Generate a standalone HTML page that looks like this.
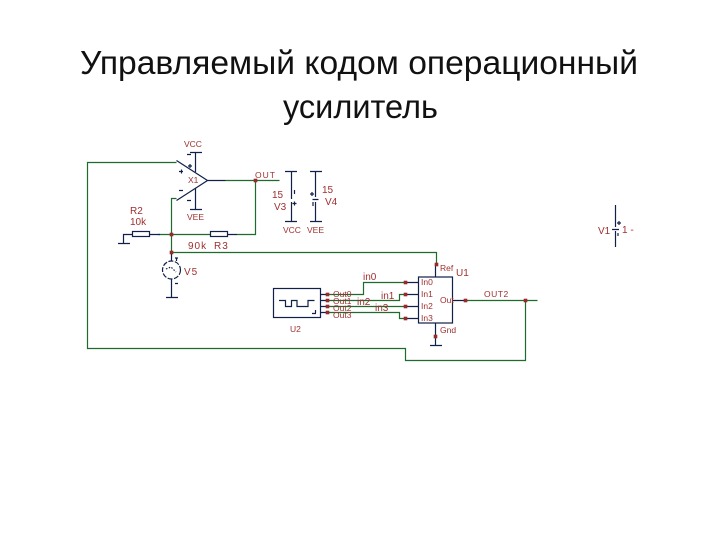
<!DOCTYPE html>
<html><head><meta charset="utf-8"><style>
html,body{margin:0;padding:0;background:#fff;width:720px;height:540px;overflow:hidden}
svg{display:block}
.t{font-family:"Liberation Sans",sans-serif;font-size:33px;fill:#111}
.l{font-family:"Liberation Sans",sans-serif;font-size:10px;fill:#a03030}
.s{font-family:"Liberation Sans",sans-serif;font-size:8.500px;fill:#a03030}
.g{stroke:#1f6b2e;stroke-width:1.200;fill:none}
.d{stroke:#10204a;stroke-width:1.200;fill:none}
.j{fill:#9a2a2a}
</style></head><body>
<svg width="720" height="540" viewBox="0 0 720 540" xmlns="http://www.w3.org/2000/svg">
<text class="t" x="80" y="74" textLength="558" lengthAdjust="spacingAndGlyphs">Управляемый кодом операционный</text>
<text class="t" x="283" y="118" textLength="155" lengthAdjust="spacingAndGlyphs">усилитель</text>

<!-- green wires -->
<path class="g" d="M176.500 162.500H87.500V348.500H405.500V360.500H525.500V300.500"/>
<path class="g" d="M176.500 198.500H171.500V252.500H436.500V264.500"/>
<path class="g" d="M225.500 180.500H279.500M255.500 180.500V234.500H237M158 234.500H210"/>
<path class="g" d="M465.500 300.500H537.500"/>
<path class="g" d="M327.500 294.500H363.500V282.500H405.500"/>
<path class="g" d="M327.500 300.500H399.500V294.500H405.500"/>
<path class="g" d="M327.500 306.500H405.500"/>
<path class="g" d="M327.500 312.500H399.500V318.500H405.500"/>

<!-- op amp -->
<path class="d" d="M176.500 160.500L207.500 180.500L176.500 200.500M207.500 180.500H225.500"/>
<path class="d" d="M190 152.500H202M195.500 152.500V172M190 209.500H202M195.500 188V209.500"/>
<text class="s" x="184" y="147">VCC</text>
<text class="s" x="187" y="220">VEE</text>
<text class="s" x="188" y="183">X1</text>
<path class="d" d="M179 171.500H183M181.500 169.500V173.500M179 190.500H183M187 154.500H191M187 200.500H191M188 166H192M190 164V168"/>

<!-- R2 / R3 -->
<rect class="d" x="132.500" y="231.500" width="17" height="5" fill="#fff"/>
<rect class="d" x="210.500" y="231.500" width="17" height="5" fill="#fff"/>
<path class="d" d="M123.500 243.500V234.500H132M150 234.500H160M228 234.500H237M118 243.500H130"/>
<text class="l" x="130" y="214">R2</text>
<text class="l" x="130" y="225">10k</text>
<text class="l" x="188" y="249" letter-spacing="1">90k</text>
<text class="l" x="214" y="249" letter-spacing="1">R3</text>

<!-- OUT -->
<text class="s" x="255" y="178" letter-spacing="1">OUT</text>

<!-- V3 / V4 -->
<path class="d" d="M285 171.500H297M291.500 171.500V199M291.500 202V221.500M285 221.500H297"/>
<path class="d" d="M310 171.500H322M315.500 171.500V197M312.500 199.500H318.500M315.500 202V221.500M310 221.500H322"/>
<path class="d" d="M294.500 190V194M292.500 203.500H296.500M294.500 201.500V205.500M310 194H314M312 192V196M313 202V206"/>
<text class="l" x="272" y="198">15</text>
<text class="l" x="274" y="210">V3</text>
<text class="l" x="322" y="193">15</text>
<text class="l" x="325" y="205">V4</text>
<text class="s" x="283" y="233">VCC</text>
<text class="s" x="307" y="233">VEE</text>

<!-- V1 -->
<path class="d" d="M615.500 205V227M612 229.500H619M615.500 231V247"/>
<path class="d" d="M617 223H621M619 221V225M618 233V236"/>
<text class="l" x="598" y="234">V1</text>
<text class="l" x="622" y="233">1 -</text>

<!-- V5 -->
<circle cx="171.500" cy="270" r="9" fill="#fff" stroke="#10204a" stroke-width="1.200" stroke-dasharray="5 1.500"/>
<path class="d" d="M171.500 252V261M171.500 279V297.500M166 297.500H178"/>
<path d="M166 269L171 267L176 272" class="d" stroke-dasharray="1.500 1.500"/>
<path class="d" d="M175 258H178M176.500 258V261M175 283.500H178"/>
<text class="l" x="184" y="275" font-size="11" letter-spacing="1">V5</text>

<!-- U2 -->
<rect class="d" x="273.500" y="288.500" width="47" height="29" fill="#fff"/>
<path class="d" d="M279 300.500H285.500V306.500H291.500V300.500H297V306.500H308V300.500H314.500M315.500 310V313M312 313.500H316"/>
<path class="d" d="M321 294.500H327M321 300.500H327M321 306.500H327M321 312.500H327"/>
<text class="s" x="333" y="297">Out0</text>
<text class="s" x="333" y="304">Out1</text>
<text class="s" x="333" y="311">Out2</text>
<text class="s" x="333" y="318">Out3</text>
<text class="s" x="290" y="332">U2</text>

<!-- U1 -->
<rect class="d" x="418.500" y="277" width="34" height="46" fill="#fff"/>
<path class="d" d="M406 282.500H418M406 294.500H418M406 306.500H418M406 318.500H418M452 300.500H465M435.500 264V277M435.500 323V345.500M430 345.500H442"/>
<text class="s" x="421" y="285">In0</text>
<text class="s" x="421" y="297">In1</text>
<text class="s" x="421" y="309">In2</text>
<text class="s" x="421" y="321">In3</text>
<text class="s" x="440" y="303">Out</text>
<text class="s" x="440" y="271">Ref</text>
<text class="s" x="440" y="333">Gnd</text>
<text class="l" x="456" y="276">U1</text>
<text class="s" x="484" y="297" letter-spacing=".5">OUT2</text>
<text class="l" x="363" y="280">in0</text>
<text class="l" x="381" y="299">in1</text>
<text class="l" x="357" y="305">in2</text>
<text class="l" x="375" y="311">in3</text>

<!-- junctions -->
<g class="j">
<rect x="253.700" y="178.700" width="3.600" height="3.600"/>
<rect x="169.700" y="232.700" width="3.600" height="3.600"/>
<rect x="169.700" y="250.700" width="3.600" height="3.600"/>
<rect x="434.700" y="262.700" width="3.600" height="3.600"/>
<rect x="433.700" y="334.700" width="3.600" height="3.600"/>
<rect x="523.700" y="298.700" width="3.600" height="3.600"/>
<rect x="463.700" y="298.700" width="3.600" height="3.600"/>
<rect x="403.700" y="280.700" width="3.600" height="3.600"/>
<rect x="403.700" y="292.700" width="3.600" height="3.600"/>
<rect x="403.700" y="304.700" width="3.600" height="3.600"/>
<rect x="403.700" y="316.700" width="3.600" height="3.600"/>
<rect x="325.700" y="292.700" width="3.600" height="3.600"/>
<rect x="325.700" y="298.700" width="3.600" height="3.600"/>
<rect x="325.700" y="304.700" width="3.600" height="3.600"/>
<rect x="325.700" y="310.700" width="3.600" height="3.600"/>
</g>
</svg>
</body></html>
